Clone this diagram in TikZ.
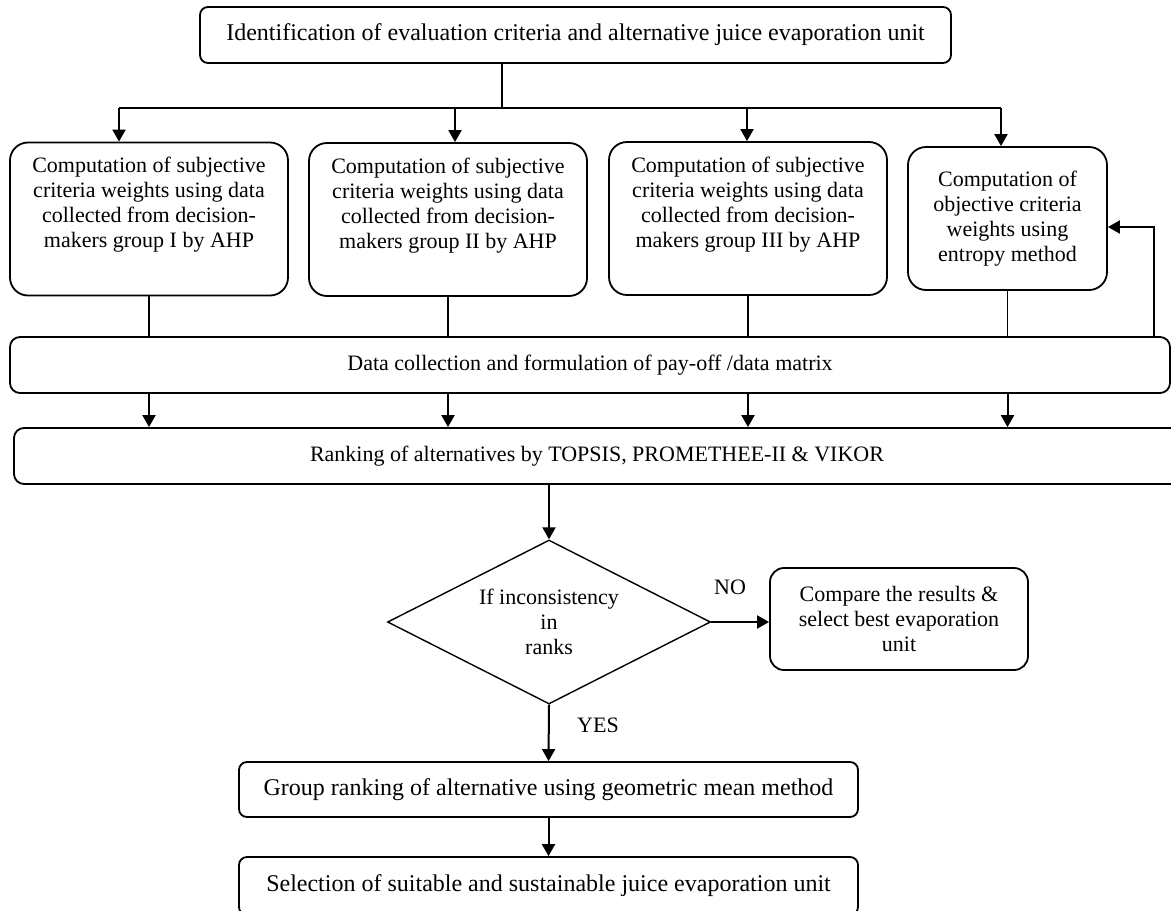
\documentclass[tikz,border=0pt]{standalone}
\usepackage{fontspec}
\setmainfont{Liberation Serif}
\usetikzlibrary{arrows.meta,shapes.geometric}

\begin{document}
\begin{tikzpicture}[x=0.5pt,y=-0.5pt,
  font=\fontsize{11}{12.5}\selectfont,
  box/.style={draw,line width=0.9pt,rounded corners=4pt,align=center,inner sep=0pt},
  wbox/.style={box,rounded corners=9pt,minimum width=139pt,minimum height=76.5pt},
  big/.style={font=\fontsize{12}{14}\selectfont},
  link/.style={line width=0.6pt},
  arr/.style={line width=1pt,-{Triangle[length=6pt,width=6.5pt]}}]
  \useasboundingbox (0,0) rectangle (1171,910);

  % top of the chart
  \node[box,big,minimum width=375.5pt,minimum height=28pt] (top) at (575.5,35)
    {Identification of evaluation criteria and alternative juice evaporation unit};
  \coordinate (split) at (502,108);
  \coordinate (d1) at (119,108);
  \coordinate (d2) at (455,108);
  \coordinate (d3) at (747,108);
  \coordinate (d4) at (1001,108);

  % weighting boxes
  \node[wbox] (c1) at (149,219) {Computation of subjective\\criteria weights using data\\collected from decision-\\makers group I by AHP\\\strut};
  \node[wbox] (c2) at (448,219.5) {Computation of subjective\\criteria weights using data\\collected from decision-\\makers group II by AHP\\\strut};
  \node[wbox] (c3) at (748,218.5) {Computation of subjective\\criteria weights using data\\collected from decision-\\makers group III by AHP\\\strut};
  \node[wbox,minimum width=99.5pt,minimum height=71.5pt] (c4) at (1007.5,218.5) {Computation of\\objective criteria\\weights using\\entropy method};

  \node[box,rounded corners=5pt,minimum width=580pt,minimum height=28pt] (data) at (590,365)
    {Data collection and formulation of pay-off /data matrix};
  \node[box,rounded corners=5pt,minimum width=583pt,minimum height=28pt] (rank) at (597,456)
    {Ranking of alternatives by TOPSIS, PROMETHEE-II \& VIKOR};
  \coordinate (fb) at (1154,227);

  % decision
  \node[draw,diamond,line width=0.7pt,aspect=2,inner sep=0pt,minimum width=161.5pt,
    minimum height=82pt,align=center] (dec) at (549,622) {If inconsistency\\in\\ranks};
  \node (no) at (730,587) {NO};
  \node (yes) at (598,725) {YES};
  \node[box,rounded corners=7pt,minimum width=129pt,minimum height=51pt] (cmp) at (899,619)
    {Compare the results \&\\select best evaporation\\unit};
  \node[box,big,minimum width=309.5pt,minimum height=27.5pt] (grp) at (548.5,789.5)
    {Group ranking of alternative using geometric mean method};
  \node[box,big,minimum width=309.5pt,minimum height=29pt] (sel) at (548.5,886)
    {Selection of suitable and sustainable juice evaporation unit};

  % connectors
  \draw[link] (split |- top.south) -- (split);
  \draw[link] (d1) -- (d4);
  \foreach \i in {1,...,4} {
    \draw[arr] (d\i) -- (d\i |- c\i.north);
    \draw[link] (c\i.south) -- (c\i.south |- data.north);
    \draw[arr] (c\i.south |- data.south) -- (c\i.south |- rank.north);
  }
  \draw[arr] (fb |- data.north) -- (fb) -- (fb -| c4.east);
  \draw[arr] (dec.north |- rank.south) -- (dec.north);
  \draw[arr] (dec.east) -- (dec.east -| cmp.west);
  \draw[arr] (dec.south) -- (grp.north);
  \draw[arr] (grp.south) -- (sel.north);
\end{tikzpicture}
\end{document}
